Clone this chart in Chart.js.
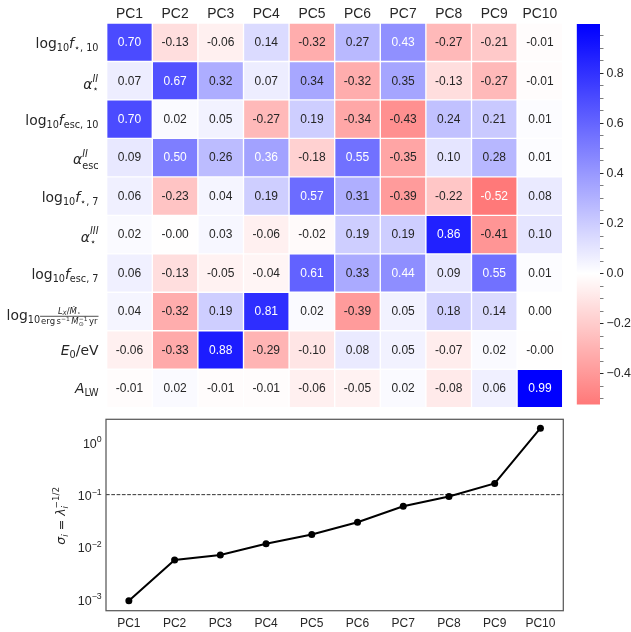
<!DOCTYPE html>
<html>
<head>
<meta charset="utf-8">
<script src="https://cdn.jsdelivr.net/npm/chart.js@4"></script>
<style>
  body { margin: 0; background: #fff; }
  #wrap { position: relative; width: 631px; height: 632px; }
  canvas { position: absolute; }
</style>
</head>
<body>
<div id="wrap">
  <canvas id="heat" width="631" height="415" style="left:0;top:0"></canvas>
  <canvas id="cbar" width="61" height="415" style="left:570px;top:0"></canvas>
  <canvas id="sigma" width="631" height="217" style="left:0;top:415px"></canvas>
</div>
<script>
// principal components (columns of the heatmap, x axis of the lower panel)
const components = ["PC1", "PC2", "PC3", "PC4", "PC5", "PC6", "PC7", "PC8", "PC9", "PC10"];

// loadings, one array per parameter (row)
const logFstar10 = [0.70, -0.13, -0.06, 0.14, -0.32, 0.27, 0.43, -0.27, -0.21, -0.01];
const alphaStarII = [0.07, 0.67, 0.32, 0.07, 0.34, -0.32, 0.35, -0.13, -0.27, -0.01];
const logFesc10 = [0.70, 0.02, 0.05, -0.27, 0.19, -0.34, -0.43, 0.24, 0.21, 0.01];
const alphaEscII = [0.09, 0.50, 0.26, 0.36, -0.18, 0.55, -0.35, 0.10, 0.28, 0.01];
const logFstar7 = [0.06, -0.23, 0.04, 0.19, 0.57, 0.31, -0.39, -0.22, -0.52, 0.08];
const alphaStarIII = [0.02, -0.004, 0.03, -0.06, -0.02, 0.19, 0.19, 0.86, -0.41, 0.10];
const logFesc7 = [0.06, -0.13, -0.05, -0.04, 0.61, 0.33, 0.44, 0.09, 0.55, 0.01];
const logLx = [0.04, -0.32, 0.19, 0.81, 0.02, -0.39, 0.05, 0.18, 0.14, 0.00];
const e0 = [-0.06, -0.33, 0.88, -0.29, -0.10, 0.08, 0.05, -0.07, 0.02, -0.004];
const aLW = [-0.01, 0.02, -0.01, -0.01, -0.06, -0.05, 0.02, -0.08, 0.06, 0.99];
const loadings = [logFstar10, alphaStarII, logFesc10, alphaEscII, logFstar7,
                  alphaStarIII, logFesc7, logLx, e0, aLW];

// colour scale
const colorLimit = 0.99;
const colorbarMin = -0.5226, colorbarMax = 0.996;
const colorbarTicks = [-0.4, -0.2, 0.0, 0.2, 0.4, 0.6, 0.8];

// lower panel: sigma_i per component
const sigma = [9.3e-4, 5.6e-3, 7.0e-3, 0.0115, 0.0173, 0.0296, 0.060, 0.092, 0.164, 1.87];
const sigmaThreshold = 0.1;
const sigmaDecades = [1e-3, 1e-2, 1e-1, 1];
const sigmaMin = 6.24e-4, sigmaMax = 2.77;

const SANS = '"Liberation Sans", Arial, sans-serif';
const MATH = '"DejaVu Sans", sans-serif';
const INK = '#262626';

// ---- tiny math text helper (sub/superscripts, stacks, fractions) ----
const B = 13.9, S = 9.7;
function fontOf(it) { return (it.it ? 'italic ' : '') + (it.s || B) + 'px ' + (it.f || MATH); }
function widthOf(ctx, items) {
  let w = 0;
  for (const it of items) {
    if (it.gap) w += it.gap;
    else if (it.stack) w += Math.max(...it.stack.map(p => widthOf(ctx, p)));
    else if (it.frac) w += Math.max(widthOf(ctx, it.frac.num), widthOf(ctx, it.frac.den)) + 2;
    else { ctx.font = fontOf(it); w += ctx.measureText(it.t).width; }
  }
  return w;
}
function drawItems(ctx, items, x, y) {
  for (const it of items) {
    if (it.gap) { x += it.gap; continue; }
    if (it.stack) {
      it.stack.forEach(p => drawItems(ctx, p, x, y));
      x += Math.max(...it.stack.map(p => widthOf(ctx, p)));
      continue;
    }
    if (it.frac) {
      const wn = widthOf(ctx, it.frac.num), wd = widthOf(ctx, it.frac.den);
      const w = Math.max(wn, wd) + 2;
      const by = y + it.frac.bar;
      ctx.fillRect(x, by - 0.4, w, 0.8);
      drawItems(ctx, it.frac.num, x + (w - wn) / 2, by + it.frac.nd);
      drawItems(ctx, it.frac.den, x + (w - wd) / 2, by + it.frac.dd);
      x += w;
      continue;
    }
    ctx.font = fontOf(it);
    ctx.fillText(it.t, x, y + (it.dy || 0));
    x += ctx.measureText(it.t).width;
  }
  return x;
}

const sub = (t, dy, o) => Object.assign({ t, s: S, dy: dy }, o || {});
const logPrefix = [{ t: 'log' }, sub('10', 3)];
const fs = 8.5, fss = 6;
const rowLabels = [
  { by: 6, items: [...logPrefix, { t: 'f', it: true }, sub('\u22c6, 10', 3)] },
  { by: 8.3, items: [{ t: '\u03b1', it: true }, { stack: [[sub('II', -7.3, { it: true })], [sub('\u22c6', 2.5)]] }] },
  { by: 6, items: [...logPrefix, { t: 'f', it: true }, sub('esc, 10', 3)] },
  { by: 6, items: [{ t: '\u03b1', it: true }, { stack: [[sub('II', -6.6, { it: true })], [sub('esc', 5)]] }] },
  { by: 6, items: [...logPrefix, { t: 'f', it: true }, sub('\u22c6, 7', 3)] },
  { by: 7.5, items: [{ t: '\u03b1', it: true }, { stack: [[sub('III', -8.4, { it: true })], [sub('\u22c6', 3)]] }] },
  { by: 6, items: [...logPrefix, { t: 'f', it: true }, sub('esc, 7', 3)] },
  { by: 8.5, items: [...logPrefix, { frac: {
      bar: -3.8, nd: -2.3, dd: 8,
      num: [{ t: 'L', s: fs, it: true }, { t: 'X', s: fss, it: true, dy: 1.5 }, { t: '/', s: fs },
            { t: '\u1e40', s: fs, it: true }, { t: '\u22c6', s: fss, dy: 1.5 }],
      den: [{ t: 'erg', s: fs }, { gap: 1.5 }, { t: 's', s: fs }, { t: '\u22121', s: fss, dy: -3.5 }, { gap: 1.5 },
            { t: 'M', s: fs, it: true }, { stack: [[{ t: '\u22121', s: fss, dy: -3.5 }], [{ t: '\u2299', s: fss, dy: 2 }]] },
            { gap: 1.5 }, { t: 'yr', s: fs }]
    } }] },
  { by: 5, items: [{ t: 'E', it: true }, sub('0', 3), { t: '/eV' }] },
  { by: 5, items: [{ t: 'A', it: true }, sub('LW', 3)] }
];

function loadingColor(v) {
  const t = Math.max(-1, Math.min(1, v / colorLimit));
  const c = Math.round(255 * (1 - Math.abs(t)));
  return t >= 0 ? `rgb(${c},${c},255)` : `rgb(255,${c},${c})`;
}
function textColor(v) {
  const t = Math.max(-1, Math.min(1, v / colorLimit));
  const c = 1 - Math.abs(t);
  const lin = x => x <= 0.03928 ? x / 12.92 : Math.pow((x + 0.055) / 1.055, 2.4);
  const rgb = t >= 0 ? [c, c, 1] : [1, c, c];
  const lum = 0.2126 * lin(rgb[0]) + 0.7152 * lin(rgb[1]) + 0.0722 * lin(rgb[2]);
  return lum > 0.41 ? INK : '#fff';
}

// cell annotations
const cellText = {
  id: 'cellText',
  afterDatasetsDraw(chart) {
    const ctx = chart.ctx;
    ctx.save();
    ctx.font = '12px ' + SANS;
    ctx.textAlign = 'center';
    ctx.textBaseline = 'middle';
    chart.data.datasets.forEach((ds, r) => {
      chart.getDatasetMeta(r).data.forEach((bar, c) => {
        const v = loadings[r][c];
        ctx.fillStyle = textColor(v);
        ctx.fillText(v.toFixed(2), bar.x, (bar.y + bar.base) / 2 + 0.5);
      });
    });
    ctx.restore();
  }
};

// row labels (math text), placed from the y scale
const rowLabelPlugin = {
  id: 'rowLabels',
  afterDraw(chart) {
    const ctx = chart.ctx, ys = chart.scales.y;
    ctx.save();
    ctx.fillStyle = INK;
    ctx.textBaseline = 'alphabetic';
    ctx.textAlign = 'left';
    rowLabels.forEach((lab, r) => {
      const yc = ys.getPixelForValue(r + 0.5);
      const w = widthOf(ctx, lab.items);
      drawItems(ctx, lab.items, 98.5 - w, yc + lab.by);
    });
    ctx.restore();
  }
};

new Chart(document.getElementById('heat'), {
  type: 'bar',
  data: {
    labels: components,
    datasets: loadings.map((row, r) => ({
      data: row.map(() => [r, r + 1]),
      backgroundColor: row.map(loadingColor),
      borderColor: '#fff',
      borderWidth: 1,
      borderSkipped: false,
      barPercentage: 1,
      categoryPercentage: 1,
      grouped: false
    }))
  },
  options: {
    responsive: false,
    animation: false,
    layout: { padding: { left: 106.7, right: 68.3, top: 0, bottom: 7.3 } },
    plugins: { legend: { display: false }, tooltip: { enabled: false } },
    scales: {
      x: {
        position: 'top',
        grid: { display: false },
        border: { display: false },
        ticks: { color: INK, font: { family: SANS, size: 13.9 }, padding: -7.5, maxRotation: 0 },
        afterFit: s => { s.height = 23; }
      },
      y: { min: 0, max: 10, reverse: true, display: false }
    }
  },
  plugins: [cellText, rowLabelPlugin]
});

// colorbar
new Chart(document.getElementById('cbar'), {
  type: 'bar',
  data: {
    labels: [''],
    datasets: [{
      data: [[colorbarMin, colorbarMax]],
      barPercentage: 1,
      categoryPercentage: 1,
      borderWidth: 0,
      backgroundColor: c => {
        const chart = c.chart, ys = chart.scales.y;
        if (!chart.chartArea || !ys) return '#fff';
        const y0 = ys.getPixelForValue(colorbarMax), y1 = ys.getPixelForValue(colorbarMin);
        const g = chart.ctx.createLinearGradient(0, y0, 0, y1);
        for (let k = 0; k <= 20; k++) {
          const v = colorbarMax + (colorbarMin - colorbarMax) * k / 20;
          g.addColorStop(k / 20, loadingColor(v));
        }
        g.addColorStop((colorbarMax) / (colorbarMax - colorbarMin), '#fff');
        return g;
      }
    }]
  },
  options: {
    responsive: false,
    animation: false,
    layout: { padding: { left: 6.7, right: 0, top: 24, bottom: 8.3 } },
    plugins: { legend: { display: false }, tooltip: { enabled: false } },
    scales: {
      x: { display: false },
      y: {
        position: 'right',
        min: colorbarMin,
        max: colorbarMax,
        border: { display: false },
        grid: {
          drawOnChartArea: false,
          tickLength: 3.5,
          tickColor: INK,
          tickWidth: c => colorbarTicks.some(t => Math.abs(t - c.tick.value) < 1e-6) ? 1 : 0.6
        },
        ticks: {
          stepSize: 0.05,
          includeBounds: false,
          autoSkip: false,
          maxTicksLimit: 100,
          padding: 3,
          color: INK,
          font: { family: SANS, size: 12.4 },
          callback: v => {
            const t = colorbarTicks.find(t => Math.abs(t - v) < 1e-6);
            if (t === undefined) return '';
            return Math.abs(t) < 1e-9 ? '0.0' : t.toFixed(1).replace('-', '\u2212');
          }
        },
        afterFit: s => { s.width = 31; }
      }
    }
  }
});

// lower panel
const frame = {
  id: 'frame',
  beforeDatasetsDraw(chart) {
    const { ctx, chartArea: a, scales } = chart;
    ctx.save();
    // threshold line
    const y = scales.y.getPixelForValue(sigmaThreshold);
    ctx.strokeStyle = '#333';
    ctx.lineWidth = 1;
    ctx.setLineDash([3.7, 1.6]);
    ctx.beginPath();
    ctx.moveTo(a.left, y);
    ctx.lineTo(a.right, y);
    ctx.stroke();
    ctx.setLineDash([]);
    ctx.strokeStyle = '#595959';
    ctx.lineWidth = 1.25;
    ctx.strokeRect(a.left, a.top, a.right - a.left, a.bottom - a.top);
    ctx.restore();
  },
  afterDraw(chart) {
    const { ctx, scales } = chart;
    ctx.save();
    ctx.fillStyle = INK;
    ctx.textBaseline = 'alphabetic';
    // decade tick labels 10^k
    sigmaDecades.forEach(v => {
      const y = scales.y.getPixelForValue(v);
      const e = Math.round(Math.log10(v));
      const items = [{ t: '10', s: 12.5, f: SANS }, { t: String(e).replace('-', '\u2212'), s: 8.8, f: SANS, dy: -5.5 }];
      const w = widthOf(ctx, items);
      drawItems(ctx, items, 101.7 - w, y + 5.5);
    });
    // y title, rotated
    const title = [{ t: '\u03c3', s: 12.5, it: true }, { t: 'i', s: 8.8, it: true, dy: 2.8 },
                   { t: ' = ', s: 12.5 }, { t: '\u03bb', s: 12.5, it: true },
                   { stack: [[{ t: '\u22121/2', s: 8.8, dy: -6 }], [{ t: 'i', s: 8.8, it: true, dy: 2.8 }]] }];
    const tw = widthOf(ctx, title);
    ctx.translate(65, (scales.y.top + scales.y.bottom) / 2 + 0.8);
    ctx.rotate(-Math.PI / 2);
    drawItems(ctx, title, -tw / 2, 0);
    ctx.restore();
  }
};

new Chart(document.getElementById('sigma'), {
  type: 'line',
  data: {
    labels: components,
    datasets: [{
      data: sigma,
      borderColor: '#000',
      backgroundColor: '#000',
      borderWidth: 2,
      pointRadius: 3.5,
      pointBorderWidth: 0,
      pointBackgroundColor: '#000',
      tension: 0,
      fill: false
    }]
  },
  options: {
    responsive: false,
    animation: false,
    layout: { padding: { left: 0, right: 67.7, top: 4.3, bottom: 0 } },
    plugins: { legend: { display: false }, tooltip: { enabled: false } },
    scales: {
      x: {
        offset: true,
        grid: { display: false },
        border: { display: false },
        ticks: { color: INK, font: { family: SANS, size: 12 }, padding: -2.3, maxRotation: 0 },
        afterFit: s => { s.height = 21.3; }
      },
      y: {
        type: 'logarithmic',
        min: sigmaMin,
        max: sigmaMax,
        grid: { display: false },
        border: { display: false },
        ticks: { display: false },
        afterFit: s => { s.width = 106; }
      }
    }
  },
  plugins: [frame]
});
</script>
</body>
</html>
